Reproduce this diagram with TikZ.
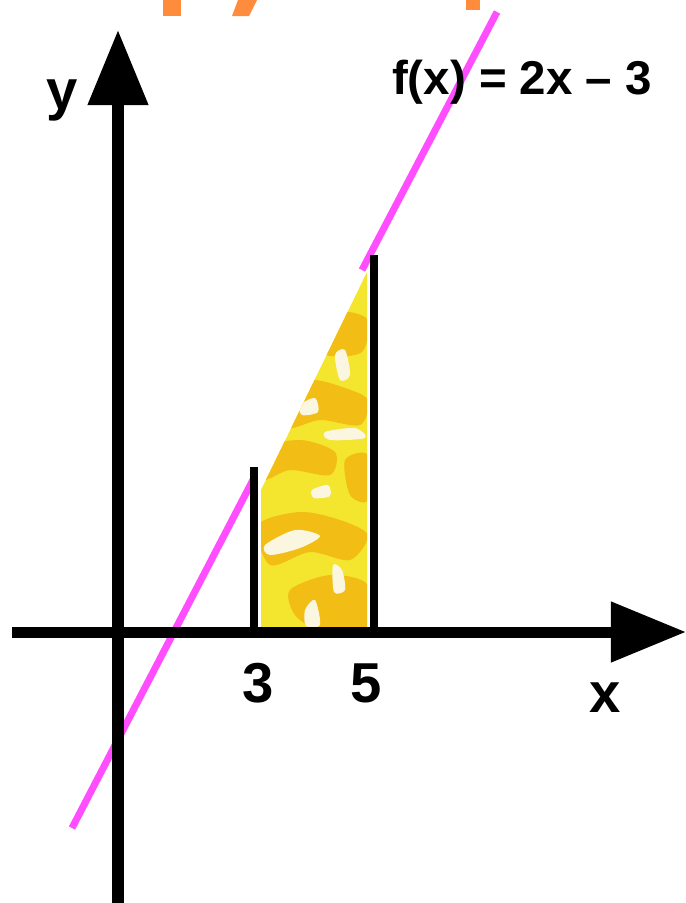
\documentclass[tikz,border=0pt]{standalone}
\usepackage{fontspec}
\setmainfont{Liberation Sans}
\usetikzlibrary{arrows.meta}
\definecolor{graphpink}{HTML}{FF4DFF}
\definecolor{titleorange}{HTML}{FF8C3C}
\definecolor{areayellow}{HTML}{F4E52E}
\definecolor{areagold}{HTML}{F2BD14}
\definecolor{areacream}{HTML}{FBF6E0}
\begin{document}
\begin{tikzpicture}[x=0.01cm,y=-0.01cm,
  axis/.style={line width=0.11cm,-{Triangle[length=0.75cm,width=0.58cm]}},
  bar/.style={line width=0.08cm},
  graph/.style={graphpink,line width=0.07cm},
  lbl/.style={font=\bfseries\fontsize{16}{19}\selectfont}]
\useasboundingbox (0,0) rectangle (686,903);

% cut-off title
\fill[titleorange] (163,0) rectangle (181,16);
\fill[titleorange] (238,0) -- (257,0) -- (249,16) -- (232,16) -- cycle;
\fill[titleorange] (466,0) rectangle (480,10);

% area under the graph
\begin{scope}
\clip (261,627) -- (261,490) -- (367,272) -- (367,627) -- cycle;
\fill[areayellow] (255,260) rectangle (370,630);
\fill[areagold] plot[smooth cycle] coordinates {(305,330) (340,312) (368,320) (362,352) (330,356) (312,348)};
\fill[areagold] plot[smooth cycle] coordinates {(270,395) (310,380) (345,388) (368,400) (360,425) (320,420) (285,428)};
\fill[areagold] plot[smooth cycle] coordinates {(258,450) (300,440) (335,452) (330,475) (290,470) (262,480)};
\fill[areagold] plot[smooth cycle] coordinates {(258,525) (300,512) (340,520) (368,535) (350,560) (310,552) (270,565)};
\fill[areagold] plot[smooth cycle] coordinates {(290,590) (330,575) (368,585) (368,630) (320,630) (295,615)};
\fill[areagold] plot[smooth cycle] coordinates {(345,460) (368,455) (368,500) (350,495)};
\fill[areacream] plot[smooth cycle] coordinates {(335,355) (345,350) (350,375) (340,380)};
\fill[areacream] plot[smooth cycle] coordinates {(300,405) (315,398) (318,412) (302,415)};
\fill[areacream] plot[smooth cycle] coordinates {(325,432) (355,428) (365,438) (330,440)};
\fill[areacream] plot[smooth cycle] coordinates {(312,490) (328,485) (330,496) (314,498)};
\fill[areacream] plot[smooth cycle] coordinates {(265,545) (295,530) (320,536) (300,548) (270,555)};
\fill[areacream] plot[smooth cycle] coordinates {(333,565) (342,570) (345,590) (334,592)};
\fill[areacream] plot[smooth cycle] coordinates {(305,610) (315,600) (320,625) (306,626)};
\end{scope}

% f(x) = 2x - 3
\draw[graph] (72,828) -- (255,476);
\draw[graph] (362,270) -- (497,12);

% bounds x=3 and x=5
\draw[bar] (254,467) -- (254,632);
\draw[bar] (374,255) -- (374,632);

% axes
\draw[axis] (12,632) -- (686,632);
\draw[axis] (118,903) -- (118,30);

\node[lbl] (ylabel) at (62,100) {y};
\node[lbl] (xlabel) at (605,698) {x};
\node[lbl] (tick3) at (258,683) {3};
\node[lbl] (tick5) at (366,683) {5};
\node[font=\bfseries\fontsize{13.5}{16}\selectfont] (fname) at (522,82) {f(x) = 2x – 3};
\end{tikzpicture}
\end{document}
